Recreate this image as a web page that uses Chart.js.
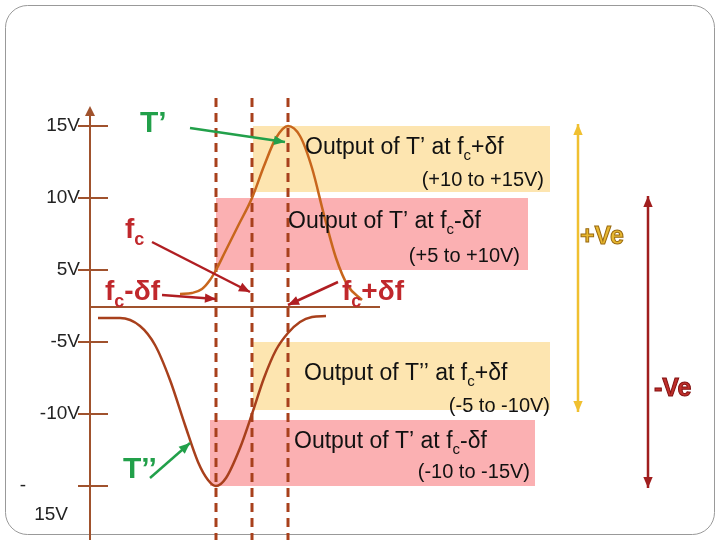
<!DOCTYPE html>
<html><head><meta charset="utf-8">
<script src="https://cdn.jsdelivr.net/npm/chart.js@4/dist/chart.umd.min.js"></script>
<style>body{margin:0;background:#fff}#wrap{width:720px;height:540px}</style>
</head><body><div id="wrap"><canvas id="c"></canvas></div>
<script>
// everything in page pixel units (x right, y down)
const tickLabels = ["15V", "10V", "5V", "-5V", "-10V", "-15V"];
const tickY = [126, 198, 270, 342, 414, 486];
const markerX = [216, 252, 288];
const upperX = [180, 192, 202, 210, 216, 225, 238, 252, 264, 276, 288, 300, 312, 324, 336, 348, 362];
const upperY = [294, 293, 289, 280, 270, 252, 226, 198, 166, 138, 126, 136, 168, 215, 258, 286, 300];
const lowerX = [98, 120, 140, 155, 170, 185, 198, 208, 216, 226, 240, 252, 264, 276, 288, 300, 312, 326];
const lowerY = [318, 318, 326, 345, 380, 425, 462, 480, 486, 478, 448, 414, 378, 350, 333, 322, 317, 316];
// boxes: x1, y1, x2, y2, colour
const boxes = [
  [253, 126, 550, 192, "#fde5b0"],
  [216, 198, 528, 270, "#fbb0b2"],
  [253, 342, 550, 410, "#fde5b0"],
  [210, 420, 535, 486, "#fbb0b2"]
];

const pts = (xs, ys) => xs.map((x, i) => ({ x: x, y: ys[i] }));

const drawing = {
  id: "drawing",
  beforeDatasetsDraw(chart) {
    const c = chart.ctx, sx = chart.scales.x, sy = chart.scales.y;
    const X = v => sx.getPixelForValue(v), Y = v => sy.getPixelForValue(v);
    c.save();
    c.strokeStyle = "#999"; c.lineWidth = 1;
    c.beginPath(); c.roundRect(5.5, 5.5, 709, 529, 22); c.stroke();
    boxes.forEach(b => { c.fillStyle = b[4]; c.fillRect(X(b[0]), Y(b[1]), X(b[2]) - X(b[0]), Y(b[3]) - Y(b[1])); });
    c.strokeStyle = "#a8401c"; c.lineWidth = 3; c.setLineDash([9, 6]);
    markerX.forEach(m => { c.beginPath(); c.moveTo(X(m), Y(98)); c.lineTo(X(m), Y(540)); c.stroke(); });
    c.setLineDash([]);
    c.strokeStyle = "#a0522d"; c.lineWidth = 2;
    c.beginPath(); c.moveTo(X(90), Y(540)); c.lineTo(X(90), Y(112)); c.stroke();
    c.beginPath(); c.moveTo(X(90), Y(307)); c.lineTo(X(380), Y(307)); c.stroke();
    c.fillStyle = "#a0522d";
    c.beginPath(); c.moveTo(X(90), Y(106)); c.lineTo(X(85), Y(116)); c.lineTo(X(95), Y(116)); c.fill();
    c.font = "19px 'Liberation Sans', Arial"; c.fillStyle = "#222"; c.textBaseline = "middle"; c.textAlign = "right";
    tickLabels.forEach((t, i) => {
      c.beginPath(); c.moveTo(X(78), Y(tickY[i])); c.lineTo(X(108), Y(tickY[i])); c.stroke();
      if (t === "-15V") { c.fillText("-", X(26), Y(tickY[i])); c.fillText("15V", X(68), Y(515)); }
      else c.fillText(t, X(80), Y(tickY[i]));
    });
    c.restore();
  },
  afterDatasetsDraw(chart) {
    const c = chart.ctx;
    c.save();
    const arrow = (x1, y1, x2, y2, col, both) => {
      c.strokeStyle = col; c.fillStyle = col; c.lineWidth = 2.5;
      c.beginPath(); c.moveTo(x1, y1); c.lineTo(x2, y2); c.stroke();
      const head = (ax, ay, bx, by) => {
        const a = Math.atan2(by - ay, bx - ax);
        c.beginPath(); c.moveTo(bx, by);
        c.lineTo(bx - 12 * Math.cos(a - 0.4), by - 12 * Math.sin(a - 0.4));
        c.lineTo(bx - 12 * Math.cos(a + 0.4), by - 12 * Math.sin(a + 0.4)); c.fill();
      };
      head(x1, y1, x2, y2); if (both) head(x2, y2, x1, y1);
    };
    const green = "#22a04a", red = "#b01e22";
    arrow(190, 128, 285, 142, green);
    arrow(152, 242, 250, 292, red);
    arrow(162, 295, 216, 299, red);
    arrow(338, 282, 288, 305, red);
    arrow(150, 478, 190, 443, green);
    arrow(578, 124, 578, 412, "#f0c030", true);
    arrow(648, 196, 648, 488, "#a01e1e", true);
    c.textBaseline = "alphabetic"; c.textAlign = "left";
    c.font = "bold 30px 'Liberation Sans', Arial"; c.fillStyle = green;
    c.fillText("T’", 140, 132); c.fillText("T’’", 123, 478);
    const fc = (x, y, suf) => {
      c.font = "bold 28px 'Liberation Sans', Arial"; c.fillStyle = "#c0282c";
      c.fillText("f", x, y); let w = c.measureText("f").width;
      c.font = "bold 18px 'Liberation Sans', Arial"; c.fillText("c", x + w, y + 7);
      w += c.measureText("c").width;
      if (suf) { c.font = "bold 28px 'Liberation Sans', Arial"; c.fillText(suf, x + w, y); }
    };
    fc(125, 238, ""); fc(105, 300, "-δf"); fc(342, 300, "+δf");
    const out = (x, y, pre, suf) => {
      c.font = "23px 'Liberation Sans', Arial"; c.fillStyle = "#111";
      c.fillText(pre, x, y); let w = c.measureText(pre).width;
      c.font = "15px 'Liberation Sans', Arial"; c.fillText("c", x + w, y + 6);
      w += c.measureText("c").width;
      c.font = "23px 'Liberation Sans', Arial"; c.fillText(suf, x + w, y);
    };
    out(305, 154, "Output of T’ at f", "+δf");
    out(288, 228, "Output of T’ at f", "-δf");
    out(304, 380, "Output of T’’ at f", "+δf");
    out(294, 448, "Output of T’ at f", "-δf");
    c.font = "20px 'Liberation Sans', Arial"; c.textAlign = "right";
    c.fillText("(+10 to +15V)", 544, 186);
    c.fillText("(+5 to +10V)", 520, 262);
    c.fillText("(-5 to -10V)", 550, 412);
    c.fillText("(-10 to -15V)", 530, 478);
    c.textAlign = "left"; c.font = "bold 25px 'Liberation Sans', Arial"; c.lineWidth = 1;
    c.fillStyle = "#e8b830"; c.strokeStyle = "#9a6a10"; c.fillText("+Ve", 580, 244); c.strokeText("+Ve", 580, 244);
    c.fillStyle = "#c0302c"; c.strokeStyle = "#801010"; c.fillText("-Ve", 654, 396); c.strokeText("-Ve", 654, 396);
    c.restore();
  }
};

new Chart(document.getElementById("c"), {
  type: "scatter",
  data: { datasets: [
    { data: pts(upperX, upperY), showLine: true, borderColor: "#c8661c", borderWidth: 2.5, pointRadius: 0, cubicInterpolationMode: "monotone" },
    { data: pts(lowerX, lowerY), showLine: true, borderColor: "#a8401c", borderWidth: 2.5, pointRadius: 0, cubicInterpolationMode: "monotone" }
  ] },
  options: {
    responsive: true, maintainAspectRatio: false, animation: false,
    layout: { padding: 0 },
    plugins: { legend: { display: false }, tooltip: { enabled: false } },
    scales: {
      x: { type: "linear", min: 0, max: 720, display: false },
      y: { type: "linear", min: 0, max: 540, reverse: true, display: false }
    }
  },
  plugins: [drawing]
});
</script></body></html>
